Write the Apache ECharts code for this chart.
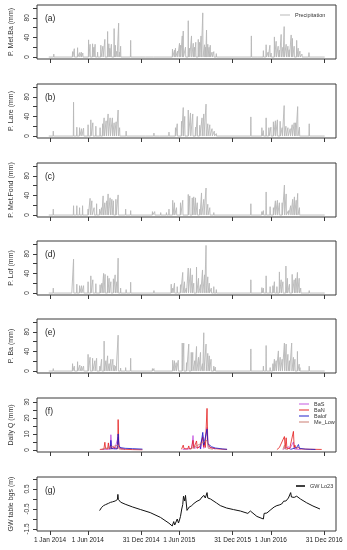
<!DOCTYPE html>
<html><head><meta charset="utf-8">
<script src="https://cdn.jsdelivr.net/npm/echarts@6/dist/echarts.min.js"></script>
<style>html,body{margin:0;padding:0;background:#fff}#c{width:347px;height:550px}</style>
</head><body><div id="c"></div>
<script>
// x values are days since 1 Jan 2014
const tickDays = [0, 151, 364, 516, 729, 882, 1095];
const tickLabels = ['1 Jan 2014', '1 Jun 2014', '31 Dec 2014', '1 Jun 2015', '31 Dec 2015', '1 Jun 2016', '31 Dec 2016'];
const panelLetters = ['(a)', '(b)', '(c)', '(d)', '(e)', '(f)', '(g)'];
const yNames = ['P. Met.Ba (mm)', 'P. Lare (mm)', 'P. Met.Fond (mm)', 'P. Lof (mm)', 'P. Ba (mm)', 'Daily Q (mm)', 'GW table bgs (m)'];
const precipTicks = [0, 20, 40, 60, 80, 100];
const precipLabels = [0, 40, 80];
const qTicks = [0, 5, 10, 15, 20, 25, 30];
const qLabels = [0, 10, 20, 30];
const gwTicks = [-1.5, -1, -0.5, 0, 0.5, 1];
const gwLabels = [-1.5, -0.5, 0.5];
const precipRecord = [-5, 1097]; // first and last day of the precipitation records

// daily precipitation, wet days only: [day, mm]
const pMetBa = [[15,6],[90,11],[97,17],[110,19],[118,9],[125,10],[131,8],[154,35],[160,26],[170,27],[175,20],[180,26],[190,10],[203,24],[211,22],[219,36],[230,52],[235,27],[239,18],[245,26],[256,58],[261,24],[267,12],[274,69],[278,10],[282,22],[322,34],[382,3],[414,2],
[489,16],[497,14],[501,18],[509,12],[517,28],[521,24],[528,43],[532,53],[541,20],[552,74],[557,18],[565,43],[572,28],[577,20],[582,30],[592,36],[597,30],[603,43],[610,90],[617,25],[621,20],[625,55],[630,26],[635,20],[640,24],[647,10],[654,11],[664,7],
[804,43],[831,3],[852,13],[863,25],[871,10],[878,24],[883,8],[896,41],[903,32],[911,22],[916,14],[923,46],[930,20],[935,62],[943,26],[950,22],[955,15],[963,45],[968,38],[975,22],[985,34],[991,18],[998,12],[1006,6],[1034,9]];
const pLare = [[13,10],[94,69],[107,18],[118,17],[126,15],[134,16],[152,23],[163,33],[171,27],[183,20],[200,17],[210,25],[216,37],[224,31],[232,45],[240,37],[249,37],[256,27],[264,29],[272,53],[278,17],[304,10],[382,3],[415,6],[439,3],[475,8],
[501,17],[508,25],[525,30],[532,58],[538,40],[552,53],[561,47],[570,45],[581,18],[588,40],[598,22],[607,37],[614,45],[623,65],[630,25],[638,23],[647,15],[656,10],[664,5],
[802,39],[846,17],[852,11],[863,37],[874,17],[882,18],[892,29],[900,31],[908,33],[919,30],[927,17],[935,62],[942,20],[950,17],[959,15],[967,23],[975,27],[981,27],[989,60],[996,18],[1035,25]];
const pMetFond = [[13,12],[94,19],[107,19],[118,15],[130,19],[152,12],[160,34],[167,29],[176,15],[186,23],[198,12],[206,15],[212,39],[219,25],[227,29],[232,43],[240,35],[247,32],[253,29],[263,32],[272,41],[302,12],[322,9],[409,7],[418,7],[442,5],[465,5],[475,12],
[490,30],[497,25],[505,15],[521,25],[530,30],[552,42],[558,39],[568,35],[574,37],[581,35],[588,25],[598,12],[605,45],[614,32],[623,55],[630,22],[638,15],[654,5],[664,3],
[802,23],[846,7],[852,9],[863,47],[879,17],[892,15],[900,29],[908,30],[916,25],[927,25],[936,61],[943,43],[952,9],[961,19],[969,32],[976,37],[983,30],[989,44],[996,15],[1035,3]];
const pLof = [[13,10],[88,3],[94,69],[107,18],[118,15],[126,15],[134,15],[152,23],[163,35],[171,27],[183,19],[200,17],[207,20],[214,40],[220,38],[230,35],[236,30],[243,23],[253,29],[260,37],[267,23],[272,71],[282,10],[304,7],[322,22],[415,5],
[484,18],[490,10],[497,20],[508,13],[521,17],[530,42],[537,23],[544,10],[552,51],[561,50],[568,37],[574,20],[585,53],[593,30],[601,17],[609,47],[617,37],[623,97],[630,33],[636,20],[644,10],[654,13],[664,7],
[802,27],[846,11],[852,10],[863,35],[879,13],[890,15],[896,23],[906,13],[916,43],[923,27],[930,23],[942,55],[948,30],[956,18],[967,38],[975,27],[981,30],[988,42],[995,30],[1001,10],[1035,5]];
const pBa = [[13,5],[90,15],[97,10],[110,19],[119,12],[126,10],[134,10],[152,34],[160,28],[170,26],[179,21],[186,26],[199,10],[206,24],[216,61],[223,21],[230,31],[236,15],[243,24],[251,24],[256,12],[263,10],[272,73],[282,6],[302,7],[322,26],[409,5],[415,5],
[490,22],[497,21],[504,17],[512,22],[528,57],[534,57],[545,17],[554,55],[564,38],[570,38],[578,21],[585,50],[593,28],[601,38],[609,15],[614,78],[623,55],[630,36],[636,31],[643,24],[654,10],[660,8],
[802,45],[852,10],[863,52],[879,7],[890,15],[896,24],[903,21],[912,41],[919,28],[927,24],[936,57],[943,55],[950,34],[956,21],[965,57],[972,28],[978,24],[988,40],[995,14],[998,7],[1035,10]];

// daily discharge (mm), one list per wet season
const qBaS = [
 [[205,0.3],[240,0.5],[243,9.5],[247,0.8],[255,2],[258,0.5],[272,8],[276,1],[300,0.3]],
 [[530,0.3],[565,0.8],[568,4],[571,9],[575,1],[598,2],[602,0.6],[610,9],[614,1],[627,14],[632,2],[660,0.5]],
 [[930,0.3],[953,2],[957,0.5],[972,5],[976,0.5],[1000,0.3]]];
const qBaN = [
 [[199,0.3],[215,0.5],[219,4.8],[222,0.8],[230,0.6],[233,4.4],[236,0.7],[243,3],[246,0.6],[255,1.5],[260,0.5],[270,0.8],[272,19],[275,2],[285,0.8],[300,0.4],[330,0.2],[369,0.1]],
 [[525,0.4],[530,0.8],[532,3],[535,0.8],[550,0.6],[554,2.5],[557,0.7],[565,0.8],[568,3.5],[571,6],[574,1],[585,5.6],[588,1],[598,2],[601,0.8],[610,8],[613,2],[617,5],[620,1.5],[627,26],[630,4],[640,1.5],[660,0.8],[680,0.5],[707,0.3]],
 [[906,0.2],[916,1.5],[920,0.5],[936,8.4],[939,1],[943,7.6],[946,1],[953,2],[957,0.8],[972,11.6],[975,1.5],[978,3],[982,1],[992,1.5],[1000,0.6],[1040,0.4],[1085,0.3]]];
const qBalof = [
 [[240,0.3],[243,6],[246,0.8],[268,0.6],[272,10],[275,3],[280,1.5],[300,1],[330,0.8],[369,0.5]],
 [[600,0.5],[610,11],[614,3],[627,13],[630,4],[636,3.5],[645,2],[660,1.2],[690,0.6],[707,0.4]],
 [[960,0.3],[985,1.5],[992,3.4],[996,1],[1020,0.5],[1060,0.3]]];
const qMeLow = [
 [[205,0.3],[272,3],[276,0.5],[290,0.3]],
 [[560,0.5],[627,6],[632,1],[650,0.4]],
 [[930,0.3],[936,3],[940,0.5],[950,0.3]]];

// groundwater table below ground surface (m)
const gwLo23 = [[198,-0.58],[202,-0.5],[206,-0.42],[210,-0.36],[214,-0.33],[218,-0.25],[222,-0.28],[226,-0.2],[229,-0.19],[233,-0.22],[237,-0.15],[241,-0.17],[246,-0.12],[250,-0.14],[256,-0.11],[260,-0.1],[265,-0.05],[269,-0.03],[271,0.23],[273,-0.02],[277,-0.1],[282,-0.16],[300,-0.26],[330,-0.4],[362,-0.53],[400,-0.68],[441,-0.92],[475,-1.21],[488,-1.35],[492,-1.41],[494,-1.13],[498,-1.3],[503,-1.2],[508,-1.0],[513,-1.2],[517,-1.05],[521,-0.87],[526,-0.5],[530,-0.28],[533,0.14],[536,0.2],[538,-0.1],[541,0.18],[545,0.1],[547,-0.57],[552,-0.5],[556,-0.4],[560,-0.3],[564,-0.35],[568,-0.25],[575,-0.22],[580,-0.15],[587,-0.11],[592,-0.12],[598,-0.05],[603,-0.03],[607,0.1],[611,0.0],[615,0.18],[620,0.05],[624,0.1],[627,0.32],[630,0.05],[636,0.12],[641,0.0],[647,-0.03],[665,-0.2],[680,-0.33],[705,-0.45],[733,-0.53],[760,-0.6],[790,-0.72],[793,-0.67],[797,-0.74],[800,-0.6],[826,-0.87],[852,-1.0],[855,-0.72],[860,-0.75],[866,-0.7],[882,-0.53],[895,-0.4],[906,-0.33],[915,-0.3],[920,-0.2],[925,-0.25],[933,-0.11],[938,-0.05],[942,-0.1],[947,0.0],[952,0.05],[956,-0.05],[961,0.32],[964,0.1],[968,0.15],[975,0.08],[985,0.14],[1000,0.0],[1025,-0.19],[1050,-0.35],[1078,-0.5]];

const precipSets = [pMetBa, pLare, pMetFond, pLof, pBa];

// daily line through wet days: dry days are zero
function dailyLine(wet) {
  const s = wet.slice().sort((a, b) => a[0] - b[0]);
  const out = [[precipRecord[0], 0]];
  s.forEach(([d, v]) => { out.push([d - 1, 0], [d, v], [d + 1, 0]); });
  out.push([precipRecord[1], 0]);
  return out;
}
function seasons(list) {
  const out = [];
  list.forEach((seg, i) => { if (i) out.push([null, null]); seg.forEach(p => out.push(p)); });
  return out;
}

const FONT = '"Liberation Sans", Arial, sans-serif';
const tops = [5, 84, 163, 241, 319, 398, 477];
const yRanges = [[-4, 106], [-4, 106], [-4, 106], [-4, 106], [-4, 106], [-1.3, 32.5], [-1.6, 1.1]];
const yTickSets = [precipTicks, precipTicks, precipTicks, precipTicks, precipTicks, qTicks, gwTicks];
const yLabelSets = [precipLabels, precipLabels, precipLabels, precipLabels, precipLabels, qLabels, gwLabels];

const grids = [], xAxes = [], yAxes = [], titles = [];
for (let i = 0; i < 7; i++) {
  grids.push({ left: 36, width: 300, top: tops[i], height: 54, show: true, borderColor: '#3a3a3a', borderWidth: 1, backgroundColor: 'transparent' });
  xAxes.push({
    type: 'value', gridIndex: i, min: -52, max: 1142, position: 'bottom',
    axisLine: { show: false, onZero: false }, splitLine: { show: false },
    axisTick: { show: true, customValues: tickDays, length: 4, lineStyle: { color: '#3a3a3a', width: 1 } },
    axisLabel: { show: i === 6, customValues: tickDays, fontSize: 6.5, margin: 6, color: '#222', fontFamily: FONT,
      formatter: v => { const k = tickDays.indexOf(v); return k >= 0 ? tickLabels[k] : ''; } }
  });
  yAxes.push({
    type: 'value', gridIndex: i, min: yRanges[i][0], max: yRanges[i][1], position: 'left',
    axisLine: { show: false, onZero: false }, splitLine: { show: false },
    axisTick: { show: true, customValues: yTickSets[i], length: 4, lineStyle: { color: '#3a3a3a', width: 1 } },
    axisLabel: { show: true, customValues: yLabelSets[i], rotate: 90, fontSize: 6.5, margin: 6, color: '#333', fontFamily: FONT },
    name: yNames[i], nameLocation: 'middle', nameGap: 22, nameRotate: 90,
    nameTextStyle: { fontSize: 7, color: '#333', fontFamily: FONT }
  });
  titles.push({ text: panelLetters[i], left: 45, top: tops[i] + 9, padding: 0,
    textStyle: { fontSize: 8.5, fontWeight: 'normal', color: '#222', fontFamily: FONT } });
}

const series = [];
precipSets.forEach((set, i) => {
  series.push({ name: i === 0 ? 'Precipitation' : 'P' + i, type: 'line', xAxisIndex: i, yAxisIndex: i,
    data: dailyLine(set), symbol: 'none', showSymbol: false, silent: true,
    lineStyle: { color: '#b8b8b8', width: 0.9 }, itemStyle: { color: '#b8b8b8' } });
});
const qDefs = [['BaS', qBaS, 'rgba(190,70,220,0.75)'], ['BaN', qBaN, 'rgba(228,25,25,0.78)'], ['Balof', qBalof, 'rgba(25,25,200,0.8)'], ['Me_Low', qMeLow, 'rgba(200,120,110,0.8)']];
qDefs.forEach(([n, d, c]) => {
  series.push({ name: n, type: 'line', xAxisIndex: 5, yAxisIndex: 5, data: seasons(d), connectNulls: false,
    symbol: 'none', showSymbol: false, silent: true, lineStyle: { color: c, width: 1 }, itemStyle: { color: c } });
});
series.push({ name: 'GW Lo23', type: 'line', xAxisIndex: 6, yAxisIndex: 6, data: gwLo23, symbol: 'none', showSymbol: false,
  silent: true, lineStyle: { color: '#111', width: 1 }, itemStyle: { color: '#111' } });

const legendText = { fontSize: 5.5, color: '#333', fontFamily: FONT, lineHeight: 6 };
const option = {
  animation: false,
  textStyle: { fontFamily: FONT },
  grid: grids, xAxis: xAxes, yAxis: yAxes, title: titles, series,
  legend: [
    { data: ['Precipitation'], left: 280, top: 12, orient: 'vertical', icon: 'rect', itemWidth: 10, itemHeight: 1, padding: 0, itemGap: 0, textStyle: legendText, selectedMode: false },
    { data: ['BaS', 'BaN', 'Balof', 'Me_Low'], left: 299, top: 401, orient: 'vertical', icon: 'rect', itemWidth: 10, itemHeight: 1.2, padding: 0, itemGap: 0, textStyle: legendText, selectedMode: false },
    { data: ['GW Lo23'], left: 296, top: 483, orient: 'vertical', icon: 'rect', itemWidth: 9, itemHeight: 1.6, padding: 0, itemGap: 0, textStyle: legendText, selectedMode: false }
  ]
};
const chart = echarts.init(document.getElementById('c'), null, { renderer: 'canvas' });
chart.setOption(option);
</script></body></html>
